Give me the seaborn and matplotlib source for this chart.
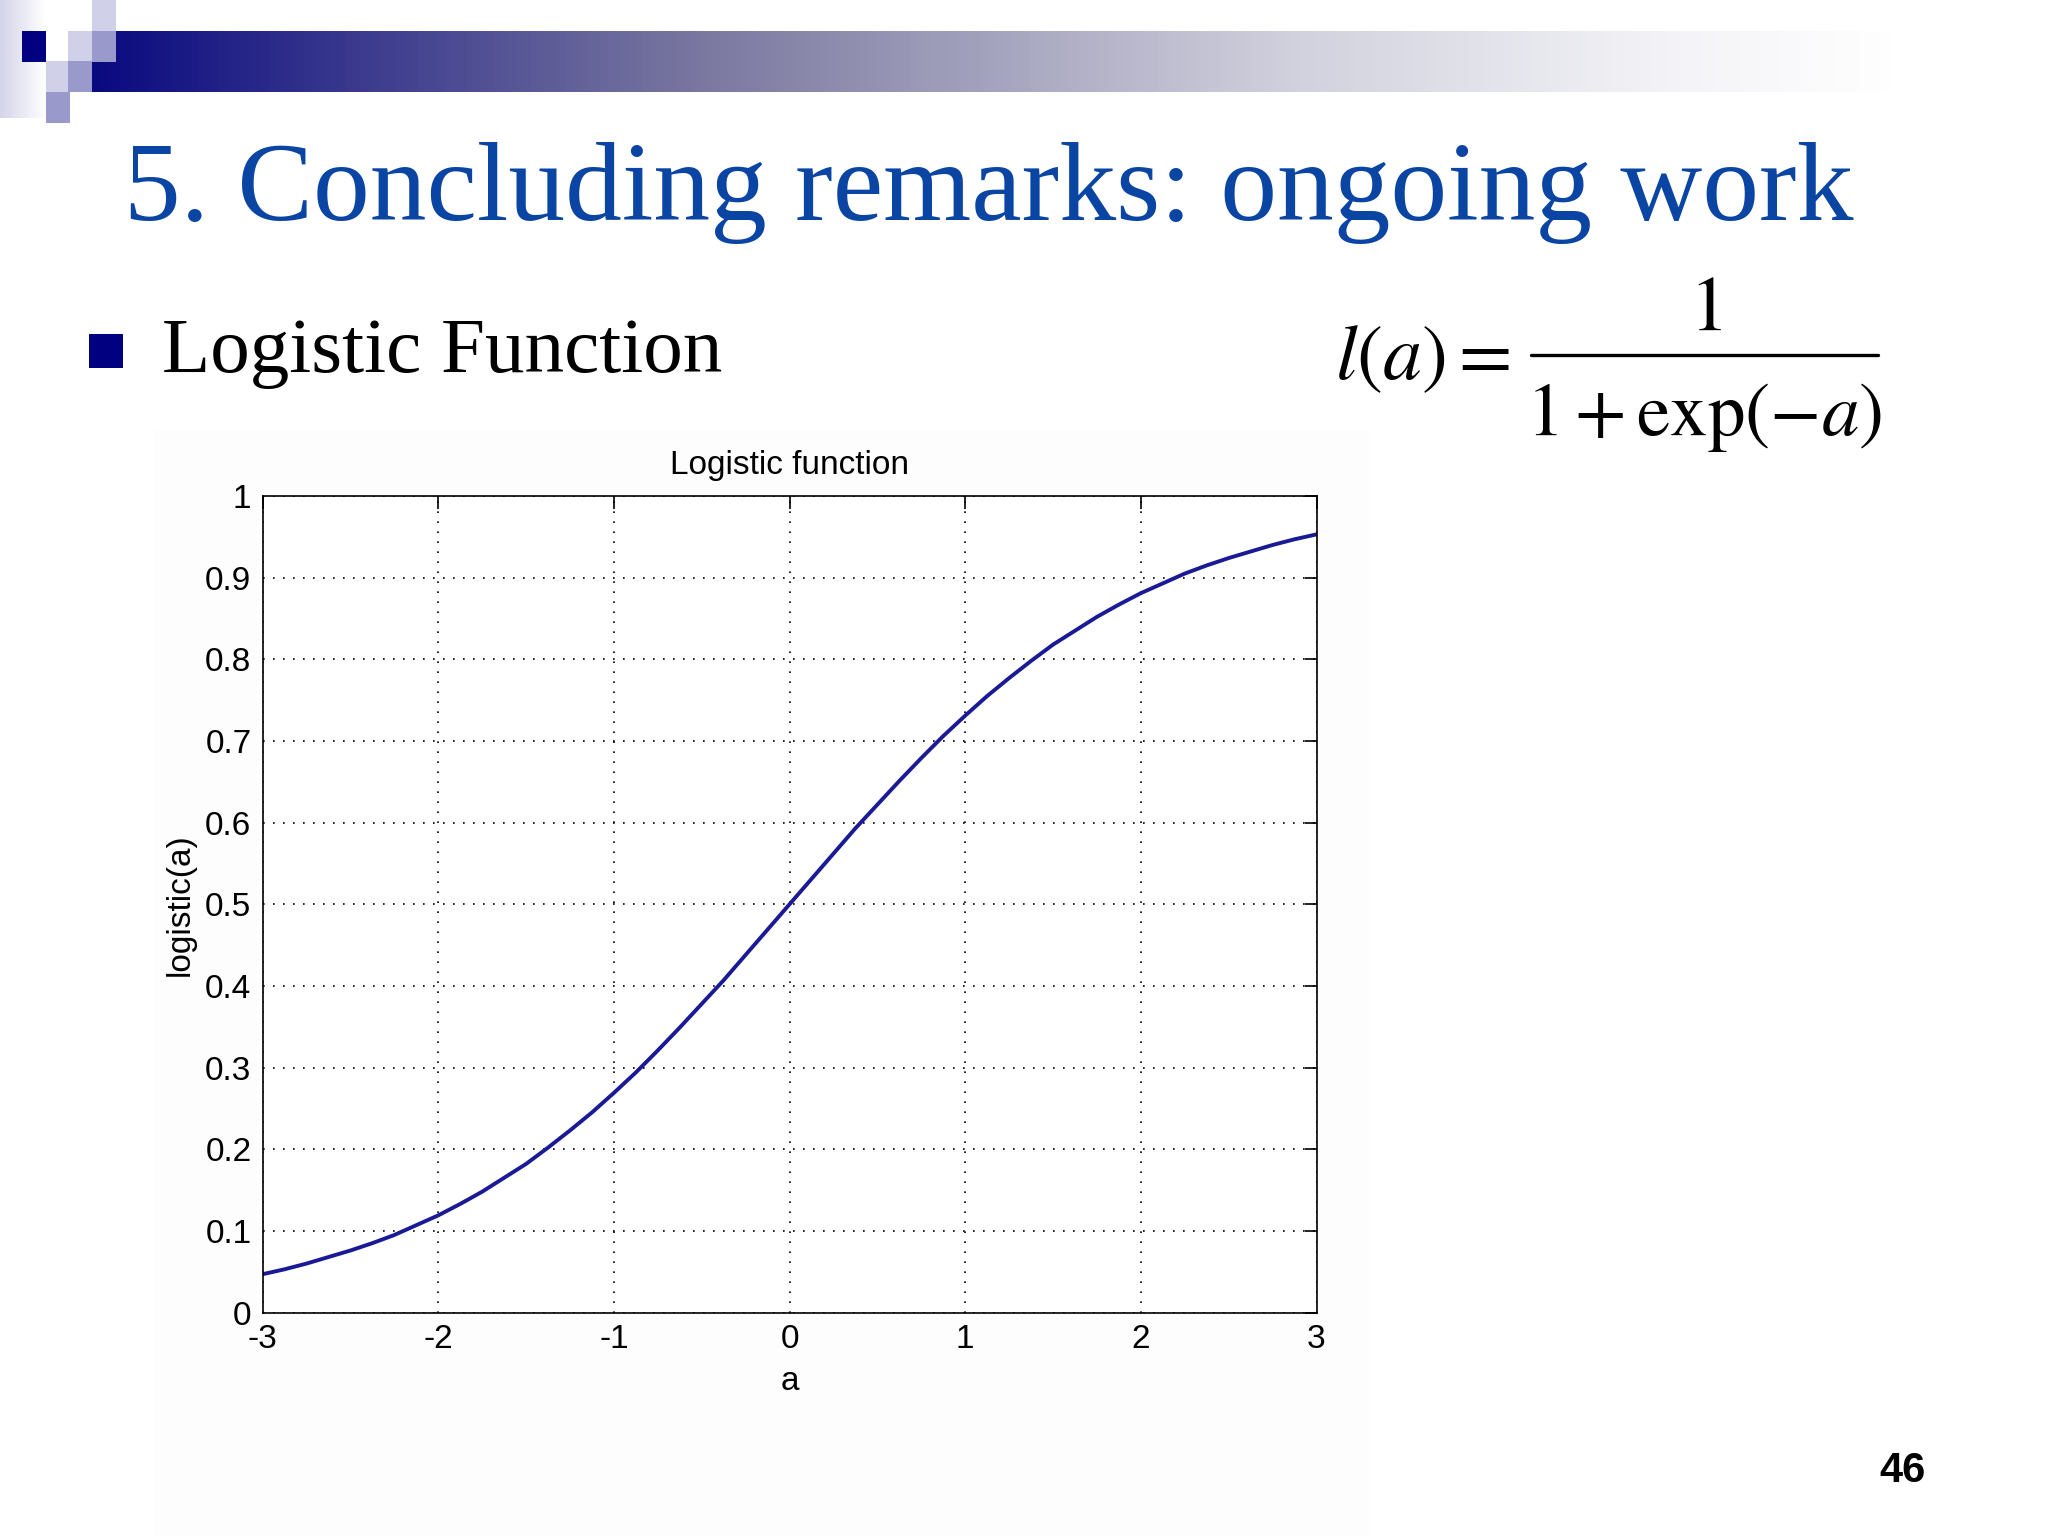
import numpy as np
import seaborn as sns
import matplotlib.pyplot as plt
from matplotlib.colors import LinearSegmentedColormap
from matplotlib.patches import Rectangle

# values
a_vals = [-3.0, -2.875, -2.75, -2.625, -2.5, -2.375, -2.25, -2.125,
          -2.0, -1.875, -1.75, -1.625, -1.5, -1.375, -1.25, -1.125,
          -1.0, -0.875, -0.75, -0.625, -0.5, -0.375, -0.25, -0.125,
          0.0, 0.125, 0.25, 0.375, 0.5, 0.625, 0.75, 0.875,
          1.0, 1.125, 1.25, 1.375, 1.5, 1.625, 1.75, 1.875,
          2.0, 2.125, 2.25, 2.375, 2.5, 2.625, 2.75, 2.875, 3.0]
logistic_vals = [0.047, 0.053, 0.060, 0.068, 0.076, 0.085, 0.095, 0.107,
                 0.119, 0.133, 0.148, 0.165, 0.182, 0.202, 0.223, 0.245,
                 0.269, 0.294, 0.321, 0.349, 0.378, 0.407, 0.438, 0.469,
                 0.500, 0.531, 0.562, 0.593, 0.622, 0.651, 0.679, 0.706,
                 0.731, 0.755, 0.777, 0.798, 0.818, 0.835, 0.852, 0.867,
                 0.881, 0.893, 0.905, 0.915, 0.924, 0.932, 0.940, 0.947, 0.953]

x_ticks = [-3, -2, -1, 0, 1, 2, 3]
x_tick_labels = ['-3', '-2', '-1', '0', '1', '2', '3']
y_ticks = [0, 0.1, 0.2, 0.3, 0.4, 0.5, 0.6, 0.7, 0.8, 0.9, 1]
y_tick_labels = ['0', '0.1', '0.2', '0.3', '0.4', '0.5', '0.6', '0.7', '0.8', '0.9', '1']

slide_title = '5. Concluding remarks: ongoing work'
bullet_text = 'Logistic Function'
page_number = '46'

W, H = 2048, 1536

sns.set_style("white")
plt.rcParams['font.family'] = ['Liberation Sans', 'DejaVu Sans']
plt.rcParams['mathtext.fontset'] = 'stix'
plt.rcParams['text.color'] = 'black'
plt.rcParams['axes.labelcolor'] = 'black'
plt.rcParams['xtick.color'] = 'black'
plt.rcParams['ytick.color'] = 'black'

fig = plt.figure(figsize=(10.24, 7.68), dpi=200)

# background axes in pixel coordinates for the slide decoration
bg = fig.add_axes([0, 0, 1, 1], zorder=0)
bg.axis('off')

bar_cmap = LinearSegmentedColormap.from_list(
    'bar', [(0, '#0a0a80'), (0.336, '#7a78a0'), (0.67, '#d2d2de'), (0.88, '#f4f4f8'), (1, '#ffffff')])
bg.imshow(np.linspace(0, 1, 512)[None, :], cmap=bar_cmap, extent=(92, 1900, 92, 31), aspect='auto')

strip_cmap = LinearSegmentedColormap.from_list('strip', ['#d4d4ea', '#ffffff'])
bg.imshow(np.linspace(0, 1, 64)[None, :], cmap=strip_cmap, extent=(0, 46, 118, 0), aspect='auto')

light, medium, dark = '#d0d0e8', '#9999cc', '#000080'
squares = [(92, 0, light), (92, 31, medium), (68, 31, light), (22, 31, dark),
           (46, 61, light), (68, 61, medium), (46, 92, medium)]
for x, y, c in squares:
    bg.add_patch(Rectangle((x, y), 23.5, 30.5, facecolor=c, edgecolor='none'))

# faint backdrop of the pasted figure
bg.add_patch(Rectangle((155, 430), 1215, 1106, facecolor='#fdfdfe', edgecolor='none'))

title = bg.text(124, 220, slide_title, family='Liberation Serif', fontsize=40,
                color='#0b45a3', ha='left', va='baseline')
bg.add_patch(Rectangle((89, 334), 34, 34, facecolor=dark, edgecolor='none'))
bg.text(162, 372, bullet_text, family='Liberation Serif', fontsize=28.5,
        color='black', ha='left', va='baseline')

# formula
bg.text(1335, 379, r'$l(a)=$', fontsize=28, color='black', ha='left', va='baseline')
bg.plot([1531, 1878], [355, 355], color='black', lw=1.2)
bg.text(1705, 330, r'$1$', fontsize=28, color='black', ha='center', va='baseline')
bg.text(1704, 435, r'$1+\mathrm{exp}(-a)$', fontsize=27, color='black', ha='center', va='baseline')

bg.text(1902, 1471, page_number, fontsize=15, weight='bold', color='black', ha='center', va='center')

bg.set_xlim(0, W)
bg.set_ylim(H, 0)

# fit the slide title to its width on the slide
fig.canvas.draw()
tw = title.get_window_extent().width
title.set_fontsize(40 * 1730 / tw)

# the chart itself
ax = fig.add_axes([262.5 / W, 1 - 1312.6 / H, 1054 / W, 816.6 / H], zorder=1)
ax.set_facecolor('white')
sns.lineplot(x=a_vals, y=logistic_vals, ax=ax, color='#1a1a96', lw=1.4)
ax.set_xlim(-3, 3)
ax.set_ylim(0, 1)
ax.set_xticks(x_ticks)
ax.set_xticklabels(x_tick_labels)
ax.set_yticks(y_ticks)
ax.set_yticklabels(y_tick_labels)
ax.tick_params(direction='in', length=4.5, width=0.6, top=True, right=True,
               labelsize=12, pad=4, colors='black')
ax.grid(True, color='black', linestyle=(0, (1, 5)), lw=0.6)
for s in ax.spines.values():
    s.set_visible(True)
    s.set_linewidth(0.6)
    s.set_color('black')
ax.set_title('Logistic function', fontsize=12, pad=8, color='black')
ax.set_xlabel('a', fontsize=12, labelpad=4)
ax.set_ylabel('logistic(a)', fontsize=12, labelpad=3.5)

fig.savefig('out.png', dpi=200)
